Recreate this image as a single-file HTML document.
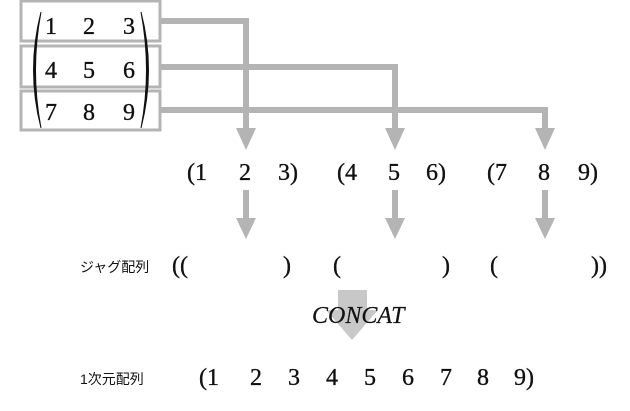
<!DOCTYPE html>
<html><head><meta charset="utf-8"><style>
html,body{margin:0;padding:0;background:#fff;}
svg{display:block;}
.m{font-family:"Liberation Serif","DejaVu Serif",serif;font-size:24px;fill:#111;stroke:#111;stroke-width:0.35;}
.j{font-family:"Liberation Sans","Noto Sans CJK JP",sans-serif;font-size:14px;fill:#111;}
</style></head><body>
<svg width="630" height="411" viewBox="0 0 630 411" xmlns="http://www.w3.org/2000/svg">
<g fill="none" stroke="#b4b4b4" stroke-width="3">
<rect x="21" y="1" width="139" height="40"/>
<rect x="21" y="46" width="139" height="41"/>
<rect x="21" y="91" width="139" height="39"/>
</g>
<g fill="none" stroke="#b4b4b4" stroke-width="6">
<polyline points="160,21 246,21 246,130"/>
<polyline points="160,67 395,67 395,130"/>
<polyline points="160,110 545,110 545,130"/>
<line x1="246" y1="190" x2="246" y2="220"/>
<line x1="395" y1="190" x2="395" y2="220"/>
<line x1="545" y1="190" x2="545" y2="220"/>
</g>
<g fill="#b4b4b4">
<polygon points="236,128 256,128 246,150"/>
<polygon points="385,128 405,128 395,150"/>
<polygon points="535,128 555,128 545,150"/>
<polygon points="236,218 256,218 246,239"/>
<polygon points="385,218 405,218 395,239"/>
<polygon points="535,218 555,218 545,239"/>
</g>
<polygon points="338,290 367,290 367,310 378,310 352,340 326,310 338,310" fill="#c8c8c8"/>
<path d="M41,12 Q26,70 41,128 Q30,70 41,12Z" fill="#111" stroke="#111" stroke-width="1"/>
<path d="M141,12 Q156,70 141,128 Q152,70 141,12Z" fill="#111" stroke="#111" stroke-width="1"/>
<g class="m" text-anchor="middle">
<text x="51" y="34">1</text><text x="89" y="34">2</text><text x="129" y="34">3</text>
<text x="51" y="78">4</text><text x="89" y="78">5</text><text x="129" y="78">6</text>
<text x="51" y="120">7</text><text x="89" y="120">8</text><text x="129" y="120">9</text>
</g>
<g class="m">
<text x="187" y="180">(1</text><text x="239" y="180">2</text><text x="278" y="180">3)</text>
<text x="337" y="180">(4</text><text x="388" y="180">5</text><text x="426" y="180">6)</text>
<text x="487" y="180">(7</text><text x="538" y="180">8</text><text x="578" y="180">9)</text>
<text x="172" y="273">((</text><text x="283" y="273">)</text>
<text x="333" y="273">(</text><text x="442" y="273">)</text>
<text x="490" y="273">(</text><text x="591" y="273">))</text>
<text x="312" y="323" font-style="italic" stroke-width="0.2">CONCAT</text>
<text x="199" y="385">(1</text><text x="250" y="385">2</text><text x="288" y="385">3</text>
<text x="326" y="385">4</text><text x="364" y="385">5</text><text x="402" y="385">6</text>
<text x="440" y="385">7</text><text x="477" y="385">8</text><text x="514" y="385">9)</text>
</g>
<text class="j" x="80" y="272">ジャグ配列</text>
<text class="j" x="80" y="384">1次元配列</text>
</svg>
</body></html>
